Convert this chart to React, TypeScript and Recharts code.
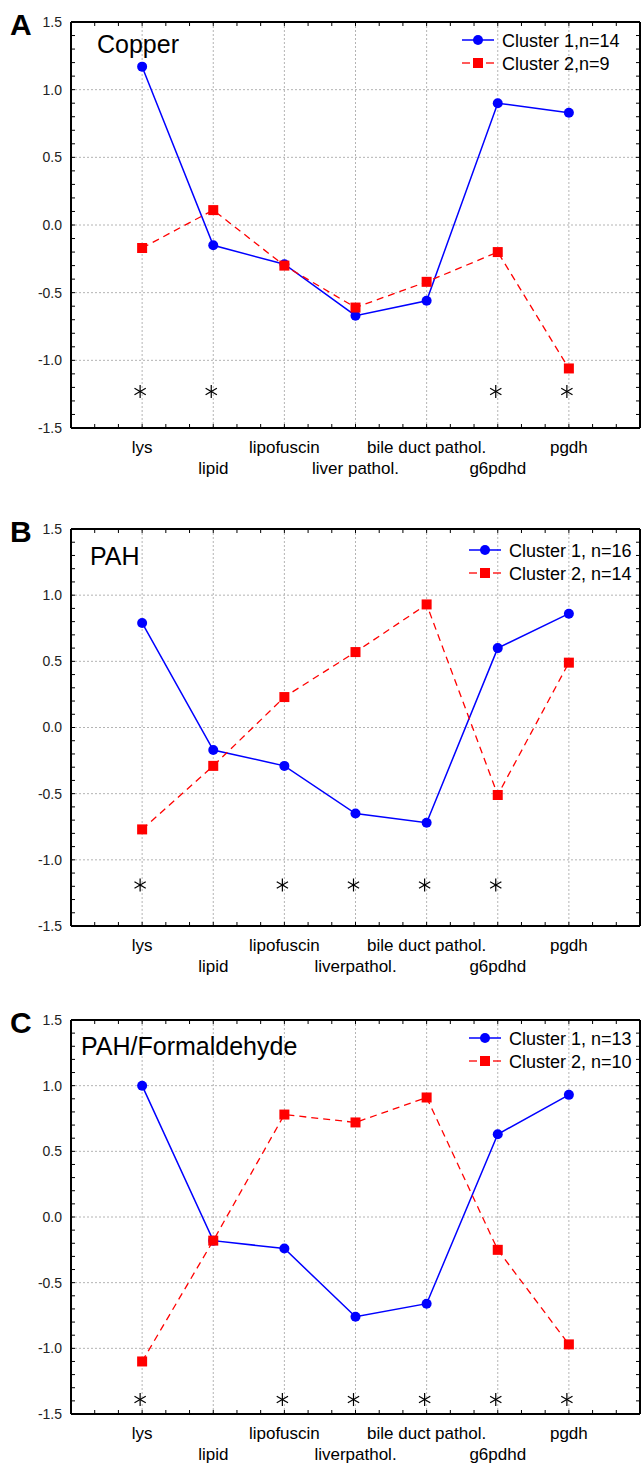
import { ComposedChart, Line, Scatter, XAxis, YAxis, CartesianGrid, Legend } from "recharts";

const FONT = "'Liberation Sans', Arial, sans-serif";

// categories sit at x = 1..7 on a 0..8 axis
const CATEGORY_X = [1, 2, 3, 4, 5, 6, 7];
const LABELS_A = ["lys", "lipid", "lipofuscin", "liver pathol.", "bile duct pathol.", "g6pdhd", "pgdh"];
const LABELS_BC = ["lys", "lipid", "lipofuscin", "liverpathol.", "bile duct pathol.", "g6pdhd", "pgdh"];
const Y_TICKS = [-1.5, -1, -0.5, 0, 0.5, 1, 1.5];

// minor tick marks on the frame
const X_MINOR = Array.from({ length: 33 }, (_, i) => i * 0.25);
const Y_MINOR = Array.from({ length: 31 }, (_, i) => Math.round((-1.5 + i * 0.1) * 10) / 10);

const COPPER_C1 = [1.17, -0.15, -0.29, -0.67, -0.56, 0.9, 0.83];
const COPPER_C2 = [-0.17, 0.11, -0.3, -0.61, -0.42, -0.2, -1.06];
const COPPER_STARS = [1, 2, 6, 7];

const PAH_C1 = [0.79, -0.17, -0.29, -0.65, -0.72, 0.6, 0.86];
const PAH_C2 = [-0.77, -0.29, 0.23, 0.57, 0.93, -0.51, 0.49];
const PAH_STARS = [1, 3, 4, 5, 6];

const FORM_C1 = [1.0, -0.18, -0.24, -0.76, -0.66, 0.63, 0.93];
const FORM_C2 = [-1.1, -0.18, 0.78, 0.72, 0.91, -0.25, -0.97];
const FORM_STARS = [1, 3, 4, 5, 6, 7];

const BLUE = "#0000ff";
const RED = "#ff0000";
const FRAME = { stroke: "#000", strokeWidth: 2 };

interface PanelProps {
  letter: string;
  title: string;
  titleX: number;
  titleBaseline: number;
  labels: string[];
  c1: number[];
  c2: number[];
  stars: number[];
  starLevel: number;
  legend: [string, string];
  legendLeft: number;
  legendTop: number;
  plotTop: number;
  plotHeight: number;
}

function EmptyTick() {
  return <g />;
}

function BlueDot(props: any) {
  const { cx, cy, index } = props;
  if (cx == null || cy == null) return <g key={`b-${index}`} />;
  return <circle key={`b-${index}`} cx={cx} cy={cy} r={5} fill={BLUE} />;
}

function RedDot(props: any) {
  const { cx, cy, index } = props;
  if (cx == null || cy == null) return <g key={`r-${index}`} />;
  return <rect key={`r-${index}`} x={cx - 5} y={cy - 5} width={10} height={10} fill={RED} />;
}

function Asterisk(props: any) {
  const { cx, cy } = props;
  const r = 6.5;
  const dx = r * Math.cos(Math.PI / 6);
  const dy = r * Math.sin(Math.PI / 6);
  const x = cx - 2;
  return (
    <g stroke="#000" strokeWidth={1.2}>
      <line x1={x} y1={cy - r} x2={x} y2={cy + r} />
      <line x1={x - dx} y1={cy - dy} x2={x + dx} y2={cy + dy} />
      <line x1={x - dx} y1={cy + dy} x2={x + dx} y2={cy - dy} />
    </g>
  );
}

function StaggerTick(props: any) {
  const { x, y, payload, labels } = props;
  const i = Math.round(payload.value) - 1;
  const second = i % 2 === 1;
  return (
    <text x={x} y={y + (second ? 46 : 25)} textAnchor="middle" fontSize={17} fill="#000" fontFamily={FONT}>
      {labels[i]}
    </text>
  );
}

function ClusterLegend({ names }: { names: [string, string] }) {
  return (
    <svg width={185} height={50} style={{ display: "block", overflow: "visible" }}>
      <line x1={0} y1={11} x2={32} y2={11} stroke={BLUE} strokeWidth={1.5} />
      <circle cx={16} cy={11} r={5} fill={BLUE} />
      <text x={40} y={17.5} fontSize={18} fontFamily={FONT} fill="#000">
        {names[0]}
      </text>
      <line x1={0} y1={34} x2={8} y2={34} stroke={RED} strokeWidth={1.3} />
      <line x1={24} y1={34} x2={32} y2={34} stroke={RED} strokeWidth={1.3} />
      <rect x={11} y={29} width={10} height={10} fill={RED} />
      <text x={40} y={40.5} fontSize={18} fontFamily={FONT} fill="#000">
        {names[1]}
      </text>
    </svg>
  );
}

function Panel(p: PanelProps) {
  const data = CATEGORY_X.map((x, i) => ({ x, c1: p.c1[i], c2: p.c2[i] }));
  const starData = p.stars.map((x) => ({ x, y: p.starLevel }));
  const marginTop = 22;
  const height = marginTop + p.plotHeight + 60;
  const chartTop = p.plotTop - marginTop;

  return (
    <>
      <div style={{ position: "absolute", left: 0, top: chartTop }}>
        <ComposedChart
          width={643}
          height={height}
          data={data}
          margin={{ top: marginTop, right: 3, bottom: 10, left: 0 }}
        >
          <CartesianGrid xAxisId="b" yAxisId="l" stroke="#b4b4b4" strokeDasharray="2 2" />
          <XAxis
            xAxisId="b"
            type="number"
            dataKey="x"
            domain={[0, 8]}
            allowDataOverflow
            ticks={CATEGORY_X}
            interval={0}
            height={50}
            tickLine={false}
            tickSize={0}
            tickMargin={0}
            axisLine={FRAME}
            tick={<StaggerTick labels={p.labels} />}
          />
          <XAxis
            xAxisId="bm"
            type="number"
            domain={[0, 8]}
            allowDataOverflow
            ticks={X_MINOR}
            interval={0}
            mirror
            tick={EmptyTick}
            tickSize={4}
            axisLine={FRAME}
            tickLine={{ stroke: "#000" }}
          />
          <XAxis
            xAxisId="t"
            orientation="top"
            type="number"
            domain={[0, 8]}
            allowDataOverflow
            ticks={X_MINOR}
            interval={0}
            mirror
            tick={EmptyTick}
            tickSize={4}
            axisLine={FRAME}
            tickLine={{ stroke: "#000" }}
          />
          <YAxis
            yAxisId="l"
            type="number"
            domain={[-1.5, 1.5]}
            allowDataOverflow
            ticks={Y_TICKS}
            interval={0}
            width={71}
            tickLine={false}
            tickSize={0}
            tickMargin={9}
            axisLine={FRAME}
            tickFormatter={(v: number) => v.toFixed(1)}
            tick={{ fontSize: 14, fill: "#222", fontFamily: FONT }}
          />
          <YAxis
            yAxisId="lm"
            type="number"
            domain={[-1.5, 1.5]}
            allowDataOverflow
            ticks={Y_MINOR}
            interval={0}
            mirror
            tick={EmptyTick}
            tickSize={4}
            axisLine={FRAME}
            tickLine={{ stroke: "#000" }}
          />
          <YAxis
            yAxisId="r"
            orientation="right"
            type="number"
            domain={[-1.5, 1.5]}
            allowDataOverflow
            ticks={Y_MINOR}
            interval={0}
            mirror
            tick={EmptyTick}
            tickSize={4}
            axisLine={FRAME}
            tickLine={{ stroke: "#000" }}
          />
          <Line
            xAxisId="b"
            yAxisId="l"
            dataKey="c1"
            stroke={BLUE}
            strokeWidth={1.5}
            dot={BlueDot}
            activeDot={false}
            isAnimationActive={false}
          />
          <Line
            xAxisId="b"
            yAxisId="l"
            dataKey="c2"
            stroke={RED}
            strokeWidth={1.3}
            strokeDasharray="7 5"
            dot={RedDot}
            activeDot={false}
            isAnimationActive={false}
          />
          <Scatter
            xAxisId="b"
            yAxisId="l"
            data={starData}
            dataKey="y"
            shape={Asterisk}
            isAnimationActive={false}
          />
          <Legend
            layout="vertical"
            align="center"
            verticalAlign="middle"
            wrapperStyle={{ left: p.legendLeft, top: p.legendTop - chartTop, width: 185, height: 50 }}
            content={() => <ClusterLegend names={p.legend} />}
          />
        </ComposedChart>
      </div>
      <svg
        width={643}
        height={80}
        style={{ position: "absolute", left: 0, top: p.plotTop - 22, pointerEvents: "none" }}
      >
        <text x={10} y={35} fontSize={30} fontWeight="bold" fontFamily={FONT} fill="#000">
          {p.letter}
        </text>
        <text x={p.titleX} y={22 + p.titleBaseline} fontSize={25} fontFamily={FONT} fill="#000">
          {p.title}
        </text>
      </svg>
    </>
  );
}

export default function App() {
  return (
    <div
      style={{
        position: "absolute",
        left: 0,
        top: 0,
        width: 643,
        height: 1464,
        overflow: "hidden",
        background: "#fff",
      }}
    >
      <Panel
        letter="A"
        title="Copper"
        titleX={97}
        titleBaseline={31}
        labels={LABELS_A}
        c1={COPPER_C1}
        c2={COPPER_C2}
        stars={COPPER_STARS}
        starLevel={-1.23}
        legend={["Cluster 1,n=14", "Cluster 2,n=9"]}
        legendLeft={462}
        legendTop={29}
        plotTop={22}
        plotHeight={406}
      />
      <Panel
        letter="B"
        title="PAH"
        titleX={90}
        titleBaseline={36}
        labels={LABELS_BC}
        c1={PAH_C1}
        c2={PAH_C2}
        stars={PAH_STARS}
        starLevel={-1.19}
        legend={["Cluster 1, n=16", "Cluster 2, n=14"]}
        legendLeft={469}
        legendTop={539}
        plotTop={529}
        plotHeight={397}
      />
      <Panel
        letter="C"
        title="PAH/Formaldehyde"
        titleX={81}
        titleBaseline={35}
        labels={LABELS_BC}
        c1={FORM_C1}
        c2={FORM_C2}
        stars={FORM_STARS}
        starLevel={-1.39}
        legend={["Cluster 1, n=13", "Cluster 2, n=10"]}
        legendLeft={469}
        legendTop={1027}
        plotTop={1020}
        plotHeight={394}
      />
    </div>
  );
}
